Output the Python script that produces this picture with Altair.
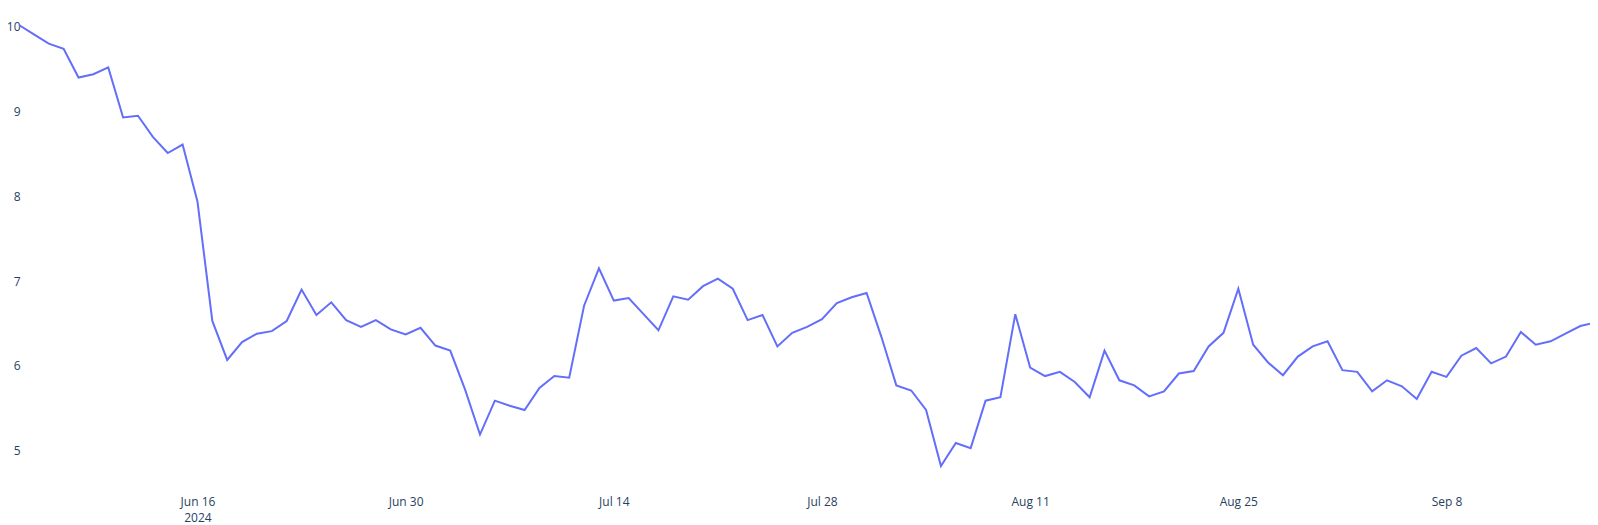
import altair as alt
import pandas as pd

start = "2024-06-04"
values = [
    10.02, 9.91, 9.80, 9.74, 9.40, 9.44, 9.52, 8.93, 8.95, 8.70,
    8.51, 8.61, 7.94, 6.53, 6.07, 6.28, 6.38, 6.41, 6.53, 6.90,
    6.60, 6.75, 6.54, 6.46, 6.54, 6.43, 6.37, 6.45, 6.24, 6.18,
    5.72, 5.19, 5.59, 5.53, 5.48, 5.74, 5.88, 5.86, 6.71, 7.15,
    6.77, 6.80, 6.61, 6.42, 6.82, 6.78, 6.94, 7.03, 6.91, 6.54,
    6.60, 6.23, 6.39, 6.46, 6.55, 6.74, 6.81, 6.86, 6.34, 5.77,
    5.71, 5.48, 4.82, 5.09, 5.03, 5.59, 5.63, 6.61, 5.98, 5.88,
    5.93, 5.81, 5.63, 6.18, 5.83, 5.77, 5.64, 5.70, 5.91, 5.94,
    6.23, 6.39, 6.91, 6.25, 6.04, 5.89, 6.11, 6.23, 6.29, 5.95,
    5.93, 5.70, 5.83, 5.76, 5.61, 5.93, 5.87, 6.12, 6.21, 6.03,
    6.11, 6.40, 6.25, 6.29, 6.38, 6.47, 6.51,
]
dates = pd.date_range(start, periods=len(values), freq="D").strftime("%Y-%m-%dT00:00:00Z").tolist()
tick_dates = ["2024-06-16", "2024-06-30", "2024-07-14", "2024-07-28",
              "2024-08-11", "2024-08-25", "2024-09-08"]
y_ticks = [5, 6, 7, 8, 9, 10]

df = pd.DataFrame({"date": dates, "value": values})

DAY = 86400000


def ms(s):
    return int(pd.Timestamp(s, tz="UTC").timestamp() * 1000)


t0 = ms(start)
x_domain = [t0 + 0.2 * DAY, t0 + 105.65 * DAY]
tick_ms = [ms(d) for d in tick_dates]

FONT = "Open Sans"
TXT = "#2a3f5f"

chart = (
    alt.Chart(df)
    .mark_line(color="#636EFA", strokeWidth=2, clip=False)
    .encode(
        x=alt.X(
            "date:T",
            scale=alt.Scale(type="utc", domain=x_domain, nice=False),
            axis=alt.Axis(
                values=tick_ms,
                labelExpr="datum.index == 0 ? [utcFormat(datum.value, '%b %-d'), '2024'] : utcFormat(datum.value, '%b %-d')",
                title=None, grid=False, ticks=False, domain=False,
                labelPadding=11, labelLineHeight=16, labelFont=FONT,
                labelFontSize=12, labelColor=TXT, labelFlush=False,
                labelOverlap=False,
            ),
        ),
        y=alt.Y(
            "value:Q",
            scale=alt.Scale(domain=[4.5955, 10.2205], zero=False, nice=False),
            axis=alt.Axis(
                values=y_ticks, title=None, grid=False, ticks=False,
                domain=False, labelPadding=2, labelFont=FONT,
                labelFontSize=12, labelColor=TXT, labelFlush=False,
            ),
        ),
    )
    .properties(
        width=1568,
        height=477,
        autosize=alt.AutoSizeParams(type="none"),
        padding={"left": 14, "top": 0, "right": 0, "bottom": 40},
    )
    .configure_view(stroke=None)
)

chart.save("out.html", embed_options={"renderer": "svg", "actions": False})
